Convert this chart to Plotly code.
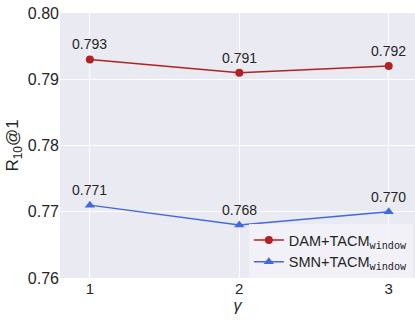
import plotly.graph_objects as go

gammas = [1, 2, 3]
dam = [0.793, 0.791, 0.792]
smn = [0.771, 0.768, 0.770]
dam_name = "DAM+TACM<sub><span style='font-family:DejaVu Sans Mono'>window</span></sub>"
smn_name = "SMN+TACM<sub><span style='font-family:DejaVu Sans Mono'>window</span></sub>"
yticks = [0.76, 0.77, 0.78, 0.79, 0.80]
xticks = [1, 2, 3]

red = "#B22222"
blue = "#4169E1"
font = "Liberation Sans, Arial, sans-serif"

fig = go.Figure()
fig.add_trace(go.Scatter(x=gammas, y=dam, mode="lines+markers", name=dam_name,
                         line=dict(color=red, width=1.5),
                         marker=dict(symbol="circle", size=8, color=red)))
fig.add_trace(go.Scatter(x=gammas, y=smn, mode="lines+markers", name=smn_name,
                         line=dict(color=blue, width=1.5),
                         marker=dict(symbol="triangle-up", size=9, color=blue)))

for xs, ys in ((gammas, dam), (gammas, smn)):
    for xv, yv in zip(xs, ys):
        fig.add_annotation(x=xv, y=yv, text=f"{yv:.3f}", showarrow=False,
                           yshift=15, font=dict(size=14, color="#262626", family=font))

fig.update_layout(
    width=415, height=320,
    margin=dict(l=60, r=0, t=13, b=42, autoexpand=False),
    paper_bgcolor="white", plot_bgcolor="#EAEAF2",
    font=dict(family=font, color="#262626"),
    showlegend=True,
    legend=dict(x=0.532, y=0, xanchor="left", yanchor="bottom",
                bgcolor="rgba(242,242,247,0.9)", font=dict(size=14.5),
                tracegroupgap=0, itemwidth=30),
)
fig.update_xaxes(range=[0.8, 3.176], tickvals=xticks, ticktext=[str(v) for v in xticks],
                 showgrid=True, gridcolor="white", gridwidth=1, zeroline=False,
                 tickfont=dict(size=15), ticks="", ticklen=0, automargin=False,
                 title=dict(text="<i>γ</i>", font=dict(size=16), standoff=0))
fig.update_yaxes(range=[0.76, 0.80], tickvals=yticks, tickformat=".2f",
                 showgrid=True, gridcolor="white", gridwidth=1, zeroline=False,
                 tickfont=dict(size=16), ticks="", automargin=False,
                 title=dict(text="R<sub>10</sub>@1", font=dict(size=17), standoff=4))

fig.write_html("out.html", config={"displayModeBar": False},
               post_script="document.body.style.margin='0px';document.body.style.overflow='hidden';")
